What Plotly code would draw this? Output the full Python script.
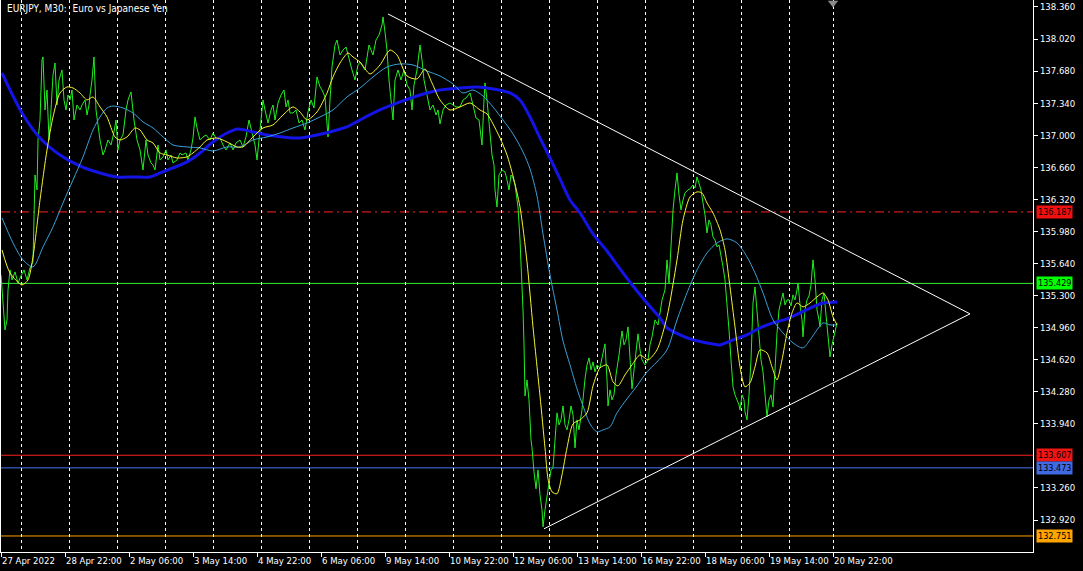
import plotly.graph_objects as go

# ---------------- data (bar index = M30 bar position on the chart) ----------------
price_bar = [1,3,5,7,8,10,12,15,18,21,
             24,27,30,33,34,35,37,38,40,42,
             43,45,47,49,51,53,55,57,59,62,
             64,66,68,70,72,74,77,80,82,85,
             87,89,90,92,94,96,98,100,103,105,
             108,111,114,116,118,120,123,126,128,131,
             134,137,140,143,146,148,151,153,155,158,
             160,163,166,168,171,173,177,180,182,186,
             188,191,193,195,197,200,203,206,210,213,
             217,220,223,226,230,233,236,240,243,246,
             249,252,255,257,260,263,265,268,271,273,
             275,278,281,284,286,288,290,293,296,299,
             302,305,308,311,314,317,320,322,325,328,
             330,332,335,337,340,343,346,349,352,355,
             358,360,365,369,373,376,379,382,383,385,
             387,389,391,393,395,398,401,404,407,410,
             412,414,417,419,420,422,424,427,430,433,
             436,438,440,443,446,450,453,456,460,463,
             466,470,473,476,479,481,482,484,485,487,
             489,492,494,495,497,499,502,505,507,509,
             511,513,515,518,520,522,523,524,525,527,
             529,531,532,534,536,538,540,542,543,545,
             547,549,551,553,555,557,559,561,563,565,
             567,569,571,573,575,577,579,582,585,587,
             589,591,593,595,597,600,602,605,607,608,
             610,612,614,616,619,622,624,626,628,630,
             632,634,636,638,640,642,645,648,650,652,
             655,658,660,662,665,667,669,671,673,675,
             677,679,681,683,685,688,690,693,695,697,
             699,701,703,705,707,709,711,713,715,717,
             719,721,723,725,727,729,731,733,735,737,
             739,740,742,744,745,747,749,751,753,755,
             757,759,761,763,765,767,769,771,773,775,
             777,779,781,783,785,787,789,791,793,795,
             797,798,800,802,803,805,807,809,811,813,
             815,817,819,820,822,824,826,828,830,832,
             834,836,837]
price_close = [135.519,135.254,134.936,135.042,135.360,135.572,135.466,135.551,135.434,135.508,
               135.572,135.466,135.593,135.657,135.996,136.579,136.420,136.950,137.162,137.798,
               137.830,137.268,137.480,136.950,137.268,137.639,137.766,137.321,137.586,137.692,
               137.374,137.268,137.427,137.374,137.480,137.162,137.321,137.268,137.321,137.374,
               137.215,137.321,137.427,137.586,137.830,137.268,137.109,136.950,136.791,136.844,
               136.950,136.897,137.035,137.162,136.844,136.950,137.003,137.268,137.374,137.459,
               137.162,136.950,136.844,136.632,136.950,136.791,136.706,136.685,136.632,136.897,
               136.738,136.770,136.844,136.738,136.791,136.706,136.738,136.812,136.791,136.812,
               136.738,136.844,136.971,137.194,137.077,136.950,136.982,137.003,136.950,137.024,
               136.950,136.971,136.897,136.844,136.918,136.844,136.918,136.950,136.876,136.982,
               137.162,137.024,136.897,136.738,137.024,137.374,137.268,137.130,137.268,137.321,
               137.162,137.342,137.427,137.480,137.300,137.374,137.236,137.236,137.268,137.130,
               137.162,137.056,137.247,137.374,137.289,137.618,137.512,137.480,137.406,136.982,
               137.374,137.724,137.957,138.010,137.851,137.904,137.936,137.798,137.692,137.586,
               137.745,137.777,137.692,137.957,137.851,138.010,138.063,138.169,138.254,138.095,
               137.904,137.586,137.374,137.162,137.586,137.692,137.586,137.692,137.533,137.480,
               137.268,137.533,137.692,137.904,137.957,137.798,137.586,137.427,137.268,137.321,
               137.215,137.268,137.120,137.268,137.321,137.342,137.321,137.300,137.300,137.374,
               137.395,137.448,137.321,137.183,137.162,136.950,136.897,137.374,137.554,137.374,
               137.162,136.791,136.685,136.420,136.240,136.579,136.632,136.611,136.526,136.420,
               136.579,136.547,136.473,136.240,135.890,135.445,135.148,134.788,134.236,134.406,
               134.194,133.770,133.685,133.431,133.251,133.452,133.187,133.028,132.848,133.028,
               133.176,133.293,133.452,133.473,133.770,134.056,133.929,133.982,134.130,133.929,
               133.876,133.982,134.130,134.035,133.685,133.982,133.876,134.088,134.417,134.565,
               134.639,134.512,134.597,134.491,134.565,134.533,134.639,134.788,134.406,134.130,
               134.300,134.194,134.247,134.459,134.671,134.925,134.777,134.830,134.968,134.618,
               134.311,134.512,134.724,134.894,134.724,134.618,134.565,134.618,134.777,134.862,
               135.042,134.989,135.116,135.254,135.360,135.678,135.434,135.890,136.208,136.420,
               136.600,136.367,136.208,136.314,136.388,136.420,136.431,136.473,136.441,136.558,
               136.473,136.420,136.282,136.155,135.964,136.102,136.049,135.922,135.890,135.816,
               135.837,135.731,135.604,135.466,135.222,134.936,134.618,134.332,134.247,134.194,
               134.141,134.088,134.247,134.194,134.067,133.982,134.247,134.618,135.222,135.392,
               135.148,134.830,134.618,134.491,134.247,134.014,134.194,134.247,134.120,134.512,
               134.904,135.148,135.254,135.328,135.201,135.254,135.254,135.190,135.307,135.254,
               135.360,135.434,135.201,135.042,134.862,135.148,135.254,135.296,135.413,135.678,
               135.466,135.148,135.042,134.968,135.254,135.328,135.095,134.830,134.650,134.777,
               134.883,134.989,135.010]

# slow moving average (thick blue)
ma_slow_bar = [2,22,40,60,82,100,117,133,150,160,173,187,200,213,227,238,253,267,283,300,
               317,330,347,360,380,400,420,440,460,477,493,510,520,530,540,550,560,570,580,593,
               607,620,633,647,660,667,680,693,707,720,733,747,760,773,787,800,813,823,837]
ma_slow = [137.660,137.236,136.971,136.791,136.664,136.600,136.558,136.558,136.558,136.600,
           136.653,136.717,136.812,136.929,137.024,137.067,137.035,137.003,136.982,136.971,
           137.003,137.035,137.088,137.162,137.268,137.353,137.427,137.480,137.501,137.512,
           137.491,137.448,137.374,137.194,136.971,136.759,136.537,136.314,136.176,135.954,
           135.773,135.583,135.402,135.222,135.063,134.957,134.883,134.830,134.798,134.777,
           134.830,134.883,134.957,135.010,135.053,135.116,135.180,135.222,135.233]

# fast moving average (yellow)
ma_fast_bar = [2,10,22,28,33,40,47,53,60,67, 73,80,87,93,100,107,115,120,127,135,
               140,147,153,160,167,177,187,193,200,207, 217,227,237,243,253,263,273,283,293,300,
               307,317,327,333,340,348,353,360,370,380, 390,397,407,417,425,432,440,450,460,470,
               480,487,493,500,507,513,520,527,533,540, 545,548,552,557,562,567,573,580,587,593,
               600,607,613,618,625,632,640,648,657,667, 677,683,690,697,702,707,713,720,725,730,
               735,740,745,750,755,760,767,772,777,782, 787,792,797,803,810,817,823,828,833,837]
ma_fast = [135.784,135.540,135.413,135.466,135.710,136.314,136.844,137.194,137.448,137.512,
           137.501,137.448,137.374,137.406,137.300,137.194,136.982,136.950,136.982,137.077,
           137.056,136.950,136.918,136.812,136.791,136.759,136.770,136.812,136.876,136.950,
           136.971,136.929,136.876,136.876,136.982,137.077,137.109,137.215,137.300,137.247,
           137.162,137.247,137.448,137.618,137.766,137.872,137.830,137.777,137.650,137.745,
           137.904,137.851,137.628,137.597,137.703,137.554,137.374,137.268,137.300,137.342,
           137.268,137.226,137.120,136.971,136.791,136.568,136.240,135.657,134.968,134.236,
           133.685,133.357,133.219,133.198,133.399,133.685,133.940,133.982,134.056,134.342,
           134.533,134.565,134.385,134.342,134.459,134.565,134.671,134.618,134.724,135.074,
           135.678,136.102,136.346,136.399,136.388,136.282,136.176,135.996,135.784,135.392,
           134.968,134.544,134.332,134.374,134.544,134.724,134.692,134.544,134.406,134.618,
           134.904,135.116,135.222,135.180,135.222,135.286,135.328,135.254,135.074,134.989]

# medium moving average (light blue)
ma_mid_bar = [2,13,23,33,43,53,63,73,83,93, 100,107,113,123,133,143,153,163,173,187,
              200,213,227,240,253,267,280,293,307,320, 333,347,360,373,387,400,413,427,440,453,
              463,473,483,493,503,513,523,530,537,543, 550,557,563,570,577,583,590,597,603,610,
              617,627,637,647,657,667,677,687,697,707, 717,727,737,747,755,763,773,783,793,803,
              810,817,823,830,837]
ma_mid = [136.123,135.858,135.678,135.604,135.816,136.028,136.282,136.526,136.770,137.056,
          137.194,137.289,137.310,137.289,137.236,137.141,137.077,136.982,136.897,136.876,
          136.865,136.833,136.876,136.876,136.950,136.982,137.024,137.077,137.130,137.194,
          137.268,137.406,137.501,137.618,137.724,137.756,137.745,137.681,137.628,137.544,
          137.448,137.480,137.416,137.300,137.162,137.014,136.823,136.643,136.356,135.954,
          135.519,135.148,134.819,134.565,134.311,134.130,133.940,133.855,133.876,133.908,
          134.056,134.205,134.342,134.491,134.597,134.724,135.042,135.328,135.572,135.752,
          135.858,135.901,135.858,135.710,135.540,135.328,135.042,134.904,134.798,134.745,
          134.830,134.936,135.010,134.989,134.989]

# triangle trend lines: upper start -> apex -> lower start
trend_bar = [388, 970, 544]
trend_price = [138.286, 135.106, 132.827]

# horizontal price levels
level_prices = [136.187, 135.429, 133.607, 133.473, 132.751]
level_labels = ["136.187", "135.429", "133.607", "133.473", "132.751"]

# axis ticks
y_tick_values = [138.36, 138.02, 137.68, 137.34, 137.00, 136.66, 136.32, 135.98,
                 135.64, 135.30, 134.96, 134.62, 134.28, 133.94, 133.26, 132.92]
x_tick_bars = [1, 65, 129, 193, 257, 321, 385, 449, 513, 577, 641, 705, 769, 833]
x_tick_labels = ["27 Apr 2022", "28 Apr 22:00", "2 May 06:00", "3 May 14:00", "4 May 22:00",
                 "6 May 06:00", "9 May 14:00", "10 May 22:00", "12 May 06:00", "13 May 14:00",
                 "16 May 22:00", "18 May 06:00", "19 May 14:00", "20 May 22:00"]
day_separator_bars = [21, 69, 117, 165, 213, 261, 309, 357, 405, 453, 501, 549,
                      597, 645, 693, 741, 789, 833]
shift_marker_bar = [833]

title_text = "EURJPY, M30:\u00a0 Euro vs Japanese Yen"

# ---------------- styling ----------------
FONT = "DejaVu Sans Condensed, DejaVu Sans, sans-serif"
level_styles = [
    dict(color="#ff2020", dash="9px,4px,2px,4px", box="#f01010"),
    dict(color="#33ee33", dash="solid", box="#00ff00"),
    dict(color="#ff2020", dash="solid", box="#f01515"),
    dict(color="#4a74f0", dash="solid", box="#4169e1"),
    dict(color="#ffa500", dash="solid", box="#ffa500"),
]
Y_MIN, Y_MAX = 132.581, 138.434

fig = go.Figure()

fig.add_trace(go.Scatter(x=price_bar, y=price_close, mode="lines",
                         line=dict(color="#22ee22", width=1), hoverinfo="skip"))
fig.add_trace(go.Scatter(x=ma_slow_bar, y=ma_slow, mode="lines",
                         line=dict(color="#1414e6", width=3, shape="spline", smoothing=0.8),
                         hoverinfo="skip"))
fig.add_trace(go.Scatter(x=ma_mid_bar, y=ma_mid, mode="lines",
                         line=dict(color="#3aa0d8", width=1, shape="spline", smoothing=0.8),
                         hoverinfo="skip"))
fig.add_trace(go.Scatter(x=ma_fast_bar, y=ma_fast, mode="lines",
                         line=dict(color="#f5f530", width=1, shape="spline", smoothing=0.7),
                         hoverinfo="skip"))
fig.add_trace(go.Scatter(x=trend_bar, y=trend_price, mode="lines",
                         line=dict(color="white", width=1), hoverinfo="skip"))
fig.add_trace(go.Scatter(x=shift_marker_bar, y=[Y_MAX - 0.032], mode="markers",
                         marker=dict(symbol="triangle-down", size=9, color="#8a8a8a"),
                         cliponaxis=False, hoverinfo="skip"))

for price, label, st in zip(level_prices, level_labels, level_styles):
    fig.add_shape(type="line", xref="paper", yref="y", x0=0, x1=1, y0=price, y1=price,
                  line=dict(color=st["color"], width=1, dash=st["dash"]), layer="below")
    fig.add_annotation(xref="paper", yref="y", x=1, y=price, xanchor="left", yanchor="middle",
                       xshift=3, text=label, showarrow=False, bgcolor=st["box"],
                       borderpad=1, font=dict(family=FONT, size=9, color="#000000"))

fig.add_annotation(xref="paper", yref="paper", x=0, y=1, xanchor="left", yanchor="top",
                   xshift=4, yshift=-1, text=title_text, showarrow=False,
                   font=dict(family=FONT, size=10, color="white"))

fig.update_layout(
    width=1083, height=571,
    margin=dict(l=1, r=50, t=0, b=19, autoexpand=False),
    paper_bgcolor="black", plot_bgcolor="black",
    showlegend=False, hovermode=False,
    font=dict(family=FONT, size=9, color="white"),
    xaxis=dict(
        range=[1, 1033], showgrid=False, zeroline=False, automargin=False,
        showline=True, linecolor="white", linewidth=1,
        ticks="outside", ticklen=4, tickcolor="white", tickwidth=1,
        tickmode="array", tickvals=x_tick_bars, ticktext=x_tick_labels,
        tickangle=0, ticklabelposition="outside right",
        tickfont=dict(family=FONT, size=9.5, color="white"),
        minor=dict(tickmode="array", tickvals=day_separator_bars, showgrid=True,
                   gridcolor="white", griddash="3px,3px", gridwidth=1, ticks=""),
    ),
    yaxis=dict(
        range=[Y_MIN, Y_MAX], side="right", showgrid=False, zeroline=False, automargin=False,
        showline=True, mirror=True, linecolor="white", linewidth=1,
        ticks="outside", ticklen=4, tickcolor="white", tickwidth=1,
        tickmode="array", tickvals=y_tick_values,
        ticktext=[f"{v:.3f}" for v in y_tick_values],
        tickfont=dict(family=FONT, size=9.5, color="white"),
    ),
)

fig.write_html(
    "out.html",
    config={"displayModeBar": False},
    post_script="document.body.style.margin='0px';document.body.style.overflow='hidden';"
                "document.body.style.background='black';",
)
